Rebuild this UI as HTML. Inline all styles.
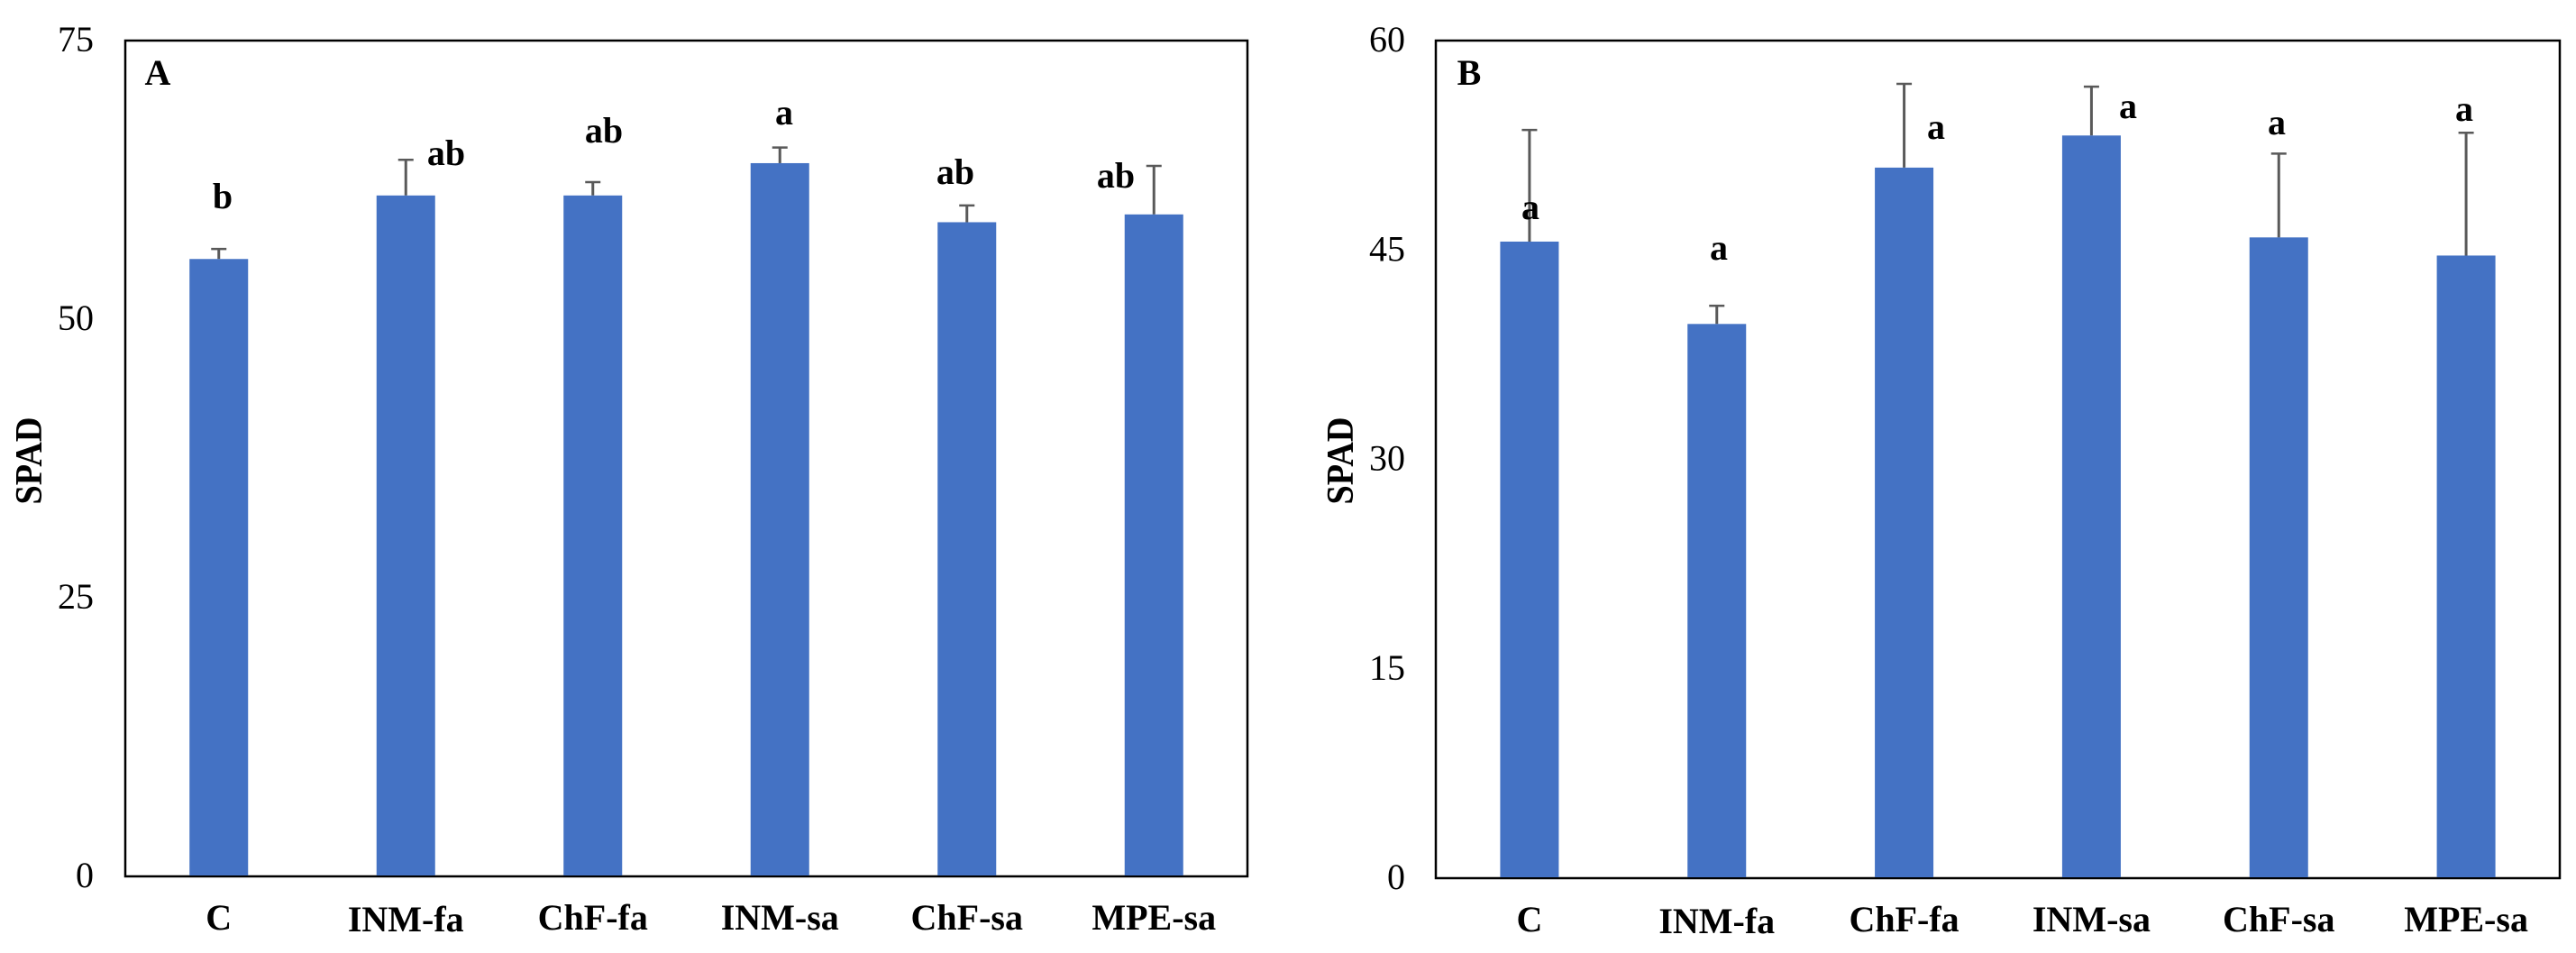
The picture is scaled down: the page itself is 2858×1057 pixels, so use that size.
<!DOCTYPE html>
<html lang="en">
<head>
<meta charset="utf-8">
<title>SPAD bar charts</title>
<style>
html,body{margin:0;padding:0;background:#fff;width:2858px;height:1057px;overflow:hidden}
svg{display:block}
text{font-family:"Liberation Serif",serif;fill:#000}
.b{font-weight:bold}
</style>
</head>
<body>
<svg id="figure" xmlns="http://www.w3.org/2000/svg" width="2858" height="1057" viewBox="0 0 2858 1057">
  <rect x="0" y="0" width="2858" height="1057" fill="#fff"/>
  <g id="panel-a"></g>
  <g id="panel-b"></g>

  <text class="b" x="175" y="94" font-size="40" text-anchor="middle">A</text>
  <text class="b" transform="translate(46 511) rotate(-90)" font-size="42" text-anchor="middle" textLength="97" lengthAdjust="spacingAndGlyphs">SPAD</text>
  <text class="b" x="247" y="231" font-size="40" text-anchor="middle">b</text>
  <text class="b" x="495" y="183" font-size="40" text-anchor="middle">ab</text>
  <text class="b" x="670" y="158" font-size="40" text-anchor="middle">ab</text>
  <text class="b" x="870" y="138" font-size="40" text-anchor="middle">a</text>
  <text class="b" x="1060" y="204" font-size="40" text-anchor="middle">ab</text>
  <text class="b" x="1238" y="208" font-size="40" text-anchor="middle">ab</text>

  <text class="b" x="1630" y="94" font-size="40" text-anchor="middle">B</text>
  <text class="b" transform="translate(1501 511) rotate(-90)" font-size="42" text-anchor="middle" textLength="97" lengthAdjust="spacingAndGlyphs">SPAD</text>
  <text class="b" x="1698" y="243" font-size="40" text-anchor="middle">a</text>
  <text class="b" x="1907" y="288" font-size="40" text-anchor="middle">a</text>
  <text class="b" x="2148" y="154" font-size="40" text-anchor="middle">a</text>
  <text class="b" x="2361" y="131" font-size="40" text-anchor="middle">a</text>
  <text class="b" x="2526" y="149" font-size="40" text-anchor="middle">a</text>
  <text class="b" x="2734" y="134" font-size="40" text-anchor="middle">a</text>
</svg>
<script>
const categories = ["C", "INM-fa", "ChF-fa", "INM-sa", "ChF-sa", "MPE-sa"];
const panelAValues = [55.4, 61.1, 61.1, 64.0, 58.7, 59.4];
const panelAErrors = [0.9, 3.2, 1.2, 1.4, 1.5, 4.35];
const panelATicks = [0, 25, 50, 75];
const panelBValues = [45.6, 39.7, 50.9, 53.2, 45.9, 44.6];
const panelBErrors = [8.0, 1.3, 6.0, 3.5, 6.0, 8.8];
const panelBTicks = [0, 15, 30, 45, 60];

const NS = "http://www.w3.org/2000/svg";

function make(parent, tag, attrs) {
  const el = document.createElementNS(NS, tag);
  for (const k in attrs) el.setAttribute(k, attrs[k]);
  parent.appendChild(el);
  return el;
}

function drawPanel(group, box, values, errors, ticks, labelRight, labelBaseline) {
  const yMax = ticks[ticks.length - 1];
  const xScale = function (i) {
    return box.left + (box.right - box.left) * (i + 0.5) / categories.length;
  };
  const yScale = function (v) {
    return box.bottom - (box.bottom - box.top) * v / yMax;
  };
  const barWidth = 65;
  const capWidth = 17;

  const frame = make(group, "rect", {
    x: box.left, y: box.top,
    width: box.right - box.left, height: box.bottom - box.top,
    fill: "#fff", stroke: "#000", "stroke-width": 2.5
  });
  
  

  ticks.forEach(function (t) {
    const tickLabel = make(group, "text", {
      x: labelRight, y: yScale(t) + 12, "font-size": 40, "text-anchor": "end"
    });
    
    
    tickLabel.textContent = t;
  });

  categories.forEach(function (cat, i) {
    const cx = xScale(i);
    const yTop = yScale(values[i]);
    const yErr = yScale(values[i] + errors[i]);

    const errorLine = make(group, "line", {
      x1: cx, x2: cx, y1: yTop, y2: yErr, stroke: "#595959", "stroke-width": 3
    });
    
    

    const errorCap = make(group, "line", {
      x1: cx - capWidth / 2, x2: cx + capWidth / 2, y1: yErr, y2: yErr,
      stroke: "#595959", "stroke-width": 2.5
    });
    
    

    const bar = make(group, "rect", {
      x: cx - barWidth / 2, y: yTop,
      width: barWidth, height: box.bottom - yTop - 1, fill: "#4472C4"
    });
    
    

    const catLabel = make(group, "text", {
      x: cx, y: labelBaseline + (cat === "INM-fa" ? 2 : 0),
      "font-size": 40, "font-weight": "bold", "text-anchor": "middle"
    });
    
    
    catLabel.textContent = cat;
  });
}

drawPanel(document.getElementById("panel-a"),
  { left: 139, right: 1384, top: 45, bottom: 972 },
  panelAValues, panelAErrors, panelATicks, 104, 1031);

drawPanel(document.getElementById("panel-b"),
  { left: 1593, right: 2840, top: 45, bottom: 974 },
  panelBValues, panelBErrors, panelBTicks, 1559, 1033);
</script>
</body>
</html>
